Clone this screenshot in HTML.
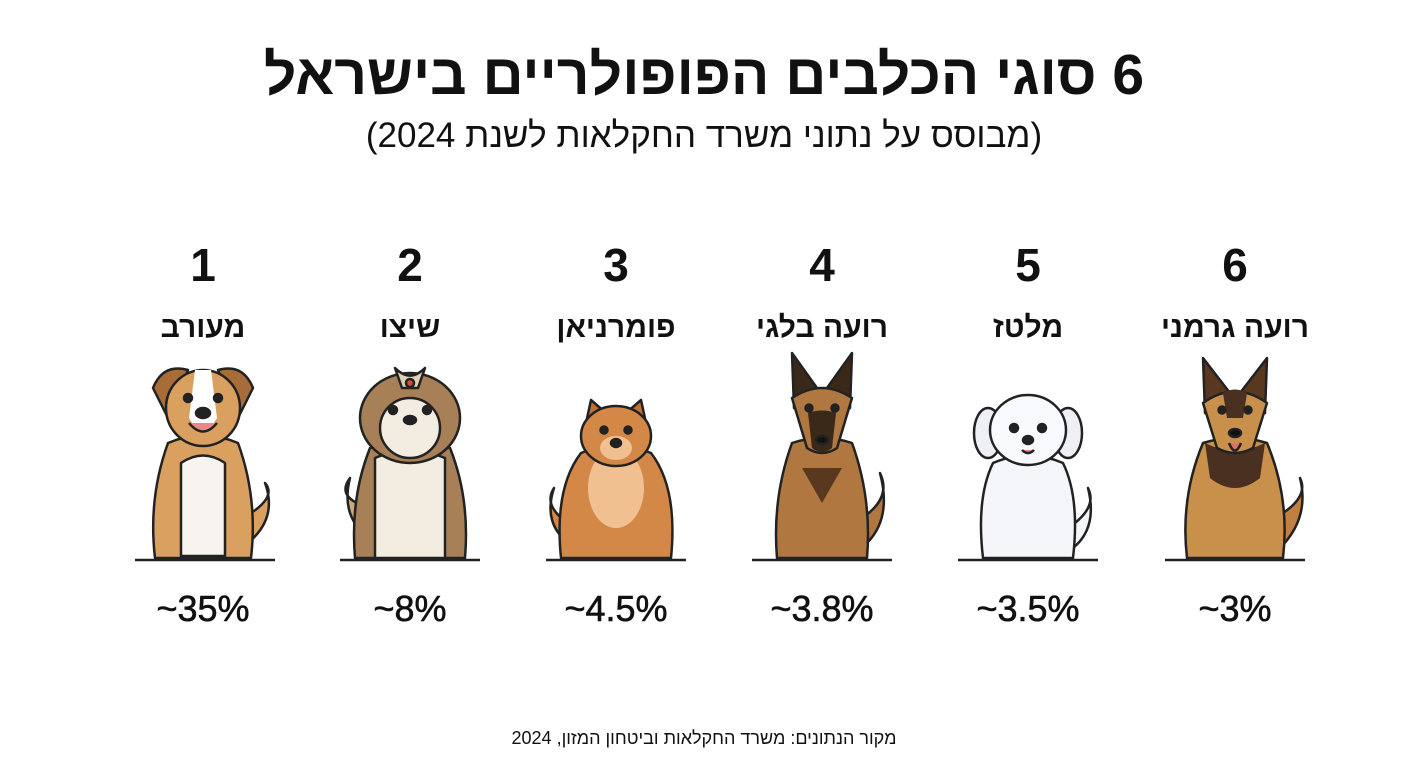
<!DOCTYPE html>
<html><head><meta charset="utf-8"><style>
body{margin:0;width:1408px;height:768px;background:#fff;overflow:hidden;font-family:"Liberation Sans","DejaVu Sans",sans-serif;color:#111}
.t{position:absolute;left:0;width:1408px;text-align:center;direction:rtl}
.c{position:absolute;width:220px;margin-left:-110px;text-align:center;direction:rtl}
.p{position:absolute;width:220px;margin-left:-110px;text-align:center;direction:ltr;font-size:36px;top:588px;-webkit-text-stroke:0.6px #111}
</style></head><body>
<div class="t" style="top:42px;font-size:57px;font-weight:bold">6 סוגי הכלבים הפופולריים בישראל</div>
<div class="t" style="top:116px;font-size:35px">(מבוסס על נתוני משרד החקלאות לשנת 2024)</div>

<div class="c" style="left:203px;top:238px;font-size:46px;font-weight:bold">1</div>
<div class="c" style="left:410px;top:238px;font-size:46px;font-weight:bold">2</div>
<div class="c" style="left:616px;top:238px;font-size:46px;font-weight:bold">3</div>
<div class="c" style="left:822px;top:238px;font-size:46px;font-weight:bold">4</div>
<div class="c" style="left:1028px;top:238px;font-size:46px;font-weight:bold">5</div>
<div class="c" style="left:1235px;top:238px;font-size:46px;font-weight:bold">6</div>

<div class="c" style="left:203px;top:311px;font-size:30px;font-weight:bold">מעורב</div>
<div class="c" style="left:410px;top:311px;font-size:30px;font-weight:bold">שיצו</div>
<div class="c" style="left:616px;top:311px;font-size:30px;font-weight:bold">פומרניאן</div>
<div class="c" style="left:822px;top:311px;font-size:30px;font-weight:bold">רועה בלגי</div>
<div class="c" style="left:1028px;top:311px;font-size:30px;font-weight:bold">מלטז</div>
<div class="c" style="left:1235px;top:311px;font-size:30px;font-weight:bold">רועה גרמני</div>

<div class="p" style="left:203px">~35%</div>
<div class="p" style="left:410px">~8%</div>
<div class="p" style="left:616px">~4.5%</div>
<div class="p" style="left:822px">~3.8%</div>
<div class="p" style="left:1028px">~3.5%</div>
<div class="p" style="left:1235px">~3%</div>

<div class="t" style="top:728px;font-size:18px">מקור הנתונים: משרד החקלאות וביטחון המזון, 2024</div>

<svg width="1408" height="768" style="position:absolute;left:0;top:0" stroke="#222" stroke-width="2.5" stroke-linejoin="round">
<g stroke-width="2.5">
<line x1="135" y1="560" x2="275" y2="560"/><line x1="340" y1="560" x2="480" y2="560"/>
<line x1="546" y1="560" x2="686" y2="560"/><line x1="752" y1="560" x2="892" y2="560"/>
<line x1="958" y1="560" x2="1098" y2="560"/><line x1="1165" y1="560" x2="1305" y2="560"/>
</g>
<!-- dog1 mixed -->
<g transform="translate(203,558)">
<path d="M40,-40 Q75,-60 62,-75 Q75,-40 45,-15" fill="#d9a060"/>
<path d="M-48,0 Q-55,-60 -35,-115 Q0,-130 35,-115 Q55,-60 48,0 Z" fill="#d9a060"/>
<path d="M-22,-2 L-22,-95 Q0,-110 22,-95 L22,-2 Z" fill="#f7f3ee"/>
<path d="M-50,-170 Q-40,-195 -15,-188 L-35,-140 Z" fill="#a86c38"/>
<path d="M50,-170 Q40,-195 15,-188 L35,-140 Z" fill="#a86c38"/>
<ellipse cx="0" cy="-150" rx="37" ry="38" fill="#d9a060"/>
<path d="M-8,-188 L8,-188 L14,-140 Q0,-115 -14,-140 Z" fill="#fff" stroke="none"/>
<circle cx="-15" cy="-160" r="4" fill="#222"/><circle cx="15" cy="-160" r="4" fill="#222"/>
<ellipse cx="0" cy="-145" rx="7" ry="5" fill="#222"/>
<path d="M-14,-135 Q0,-118 14,-135" fill="#e88888"/>
</g>
<!-- dog2 shih tzu -->
<g transform="translate(410,558)">
<path d="M-40,-50 Q-75,-60 -60,-80 Q-70,-40 -40,-20" fill="#c9a878"/>
<path d="M-55,0 Q-60,-60 -40,-110 Q0,-125 40,-110 Q60,-60 55,0 Z" fill="#a88058"/>
<path d="M-35,0 L-35,-100 Q0,-115 35,-100 L35,0 Z" fill="#f3ece0"/>
<ellipse cx="0" cy="-140" rx="50" ry="45" fill="#a88058"/>
<ellipse cx="0" cy="-130" rx="30" ry="30" fill="#f3ece0"/>
<path d="M-15,-190 Q0,-175 15,-190 L8,-170 L-8,-170 Z" fill="#e0d0b8"/>
<circle cx="0" cy="-175" r="4" fill="#d05030"/>
<circle cx="-17" cy="-148" r="4" fill="#222"/><circle cx="17" cy="-148" r="4" fill="#222"/>
<ellipse cx="0" cy="-138" rx="6" ry="4" fill="#222"/>
</g>
<!-- dog3 pomeranian -->
<g transform="translate(616,558)">
<path d="M-40,-30 Q-75,-50 -62,-70 Q-75,-30 -40,-10" fill="#d48848"/>
<path d="M-55,0 Q-62,-70 -35,-105 Q0,-120 35,-105 Q62,-70 55,0 Z" fill="#d48848"/>
<ellipse cx="0" cy="-70" rx="28" ry="40" fill="#f0c090" stroke="none"/>
<path d="M-30,-135 L-25,-158 L-10,-145 Z" fill="#c07030"/><path d="M30,-135 L25,-158 L10,-145 Z" fill="#c07030"/>
<ellipse cx="0" cy="-122" rx="35" ry="30" fill="#d48848"/>
<ellipse cx="0" cy="-110" rx="16" ry="12" fill="#f0c090" stroke="none"/>
<circle cx="-12" cy="-128" r="3.5" fill="#222"/><circle cx="12" cy="-128" r="3.5" fill="#222"/>
<ellipse cx="0" cy="-115" rx="5" ry="4" fill="#222"/>
</g>
<!-- dog4 malinois -->
<g transform="translate(822,558)">
<path d="M40,-40 Q70,-60 58,-85 Q70,-40 45,-15" fill="#b07840"/>
<path d="M-45,0 Q-50,-60 -30,-115 Q0,-125 30,-115 Q50,-60 45,0 Z" fill="#b07840"/>
<path d="M-20,-90 L20,-90 L0,-55 Z" fill="#5a3820" stroke="none"/>
<path d="M-28,-150 L-30,-205 L-5,-170 Z" fill="#3a2818"/><path d="M28,-150 L30,-205 L5,-170 Z" fill="#3a2818"/>
<path d="M-30,-160 Q0,-180 30,-160 L15,-110 Q0,-100 -15,-110 Z" fill="#b07840"/>
<path d="M-14,-145 Q0,-150 14,-145 L10,-110 Q0,-102 -10,-110 Z" fill="#3a2818" stroke="none"/>
<circle cx="-13" cy="-150" r="3.5" fill="#222"/><circle cx="13" cy="-150" r="3.5" fill="#222"/>
<ellipse cx="0" cy="-118" rx="6" ry="4" fill="#111"/>
</g>
<!-- dog5 maltese -->
<g transform="translate(1028,558)">
<path d="M40,-30 Q70,-50 60,-70 Q70,-30 45,-10" fill="#f4f6fa"/>
<path d="M-45,0 Q-52,-60 -35,-95 Q0,-110 35,-95 Q52,-60 45,0 Z" fill="#f4f6fa"/>
<ellipse cx="-40" cy="-125" rx="14" ry="25" fill="#eef0f5"/><ellipse cx="40" cy="-125" rx="14" ry="25" fill="#eef0f5"/>
<ellipse cx="0" cy="-128" rx="38" ry="35" fill="#f8f9fc"/>
<circle cx="-14" cy="-130" r="4" fill="#222"/><circle cx="14" cy="-130" r="4" fill="#222"/>
<ellipse cx="0" cy="-118" rx="5" ry="4" fill="#222"/>
<path d="M-6,-108 Q0,-102 6,-108" fill="#e88888"/>
</g>
<!-- dog6 german shepherd -->
<g transform="translate(1235,558)">
<path d="M40,-40 Q75,-60 65,-80 Q75,-40 45,-10" fill="#c08040"/>
<path d="M-48,0 Q-55,-60 -32,-115 Q0,-125 32,-115 Q55,-60 48,0 Z" fill="#c8904a"/>
<path d="M-30,-115 Q0,-100 30,-115 L25,-80 Q0,-60 -25,-80 Z" fill="#4a3020" stroke="none"/>
<path d="M-30,-145 L-32,-200 L-5,-165 Z" fill="#5a3820"/><path d="M30,-145 L32,-200 L5,-165 Z" fill="#5a3820"/>
<path d="M-32,-155 Q0,-178 32,-155 L18,-110 Q0,-100 -18,-110 Z" fill="#c8904a"/>
<path d="M-12,-165 Q0,-172 12,-165 L8,-140 L-8,-140 Z" fill="#4a3020" stroke="none"/>
<circle cx="-13" cy="-148" r="3.5" fill="#222"/><circle cx="13" cy="-148" r="3.5" fill="#222"/>
<ellipse cx="0" cy="-125" rx="6" ry="4" fill="#111"/>
<path d="M-6,-115 Q0,-100 6,-115" fill="#e07070"/>
</g>
</svg>
</body></html>
